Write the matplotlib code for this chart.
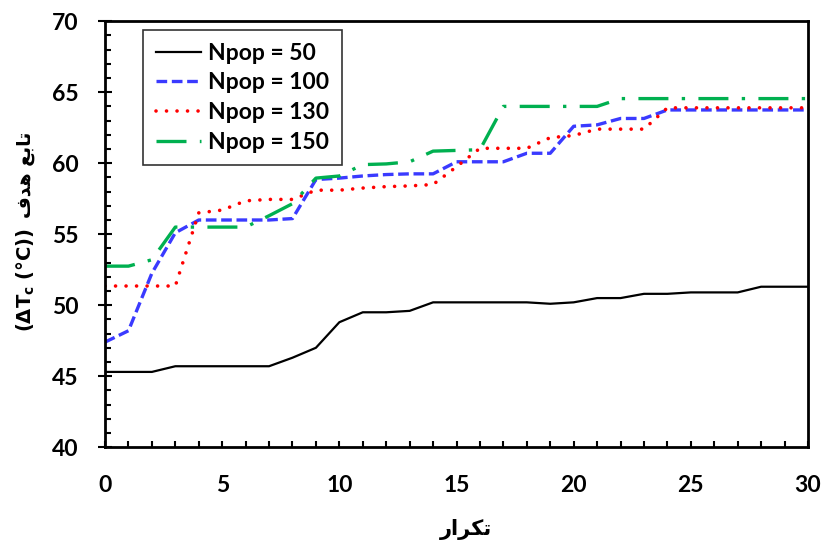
import matplotlib
matplotlib.use("Agg")
import matplotlib.pyplot as plt
from matplotlib.ticker import MultipleLocator

# iterations
iters = list(range(31))

# best objective per iteration for each population size
npop_50 = [45.3, 45.3, 45.3, 45.7, 45.7, 45.7, 45.7, 45.7, 46.3, 47.0,
           48.8, 49.5, 49.5, 49.6, 50.2, 50.2, 50.2, 50.2, 50.2, 50.1,
           50.2, 50.5, 50.5, 50.8, 50.8, 50.9, 50.9, 50.9, 51.3, 51.3, 51.3]
npop_100 = [47.4, 48.2, 52.25, 55.1, 56.0, 56.0, 56.0, 56.0, 56.1, 58.85,
            58.95, 59.1, 59.2, 59.25, 59.25, 60.1, 60.1, 60.1, 60.7, 60.7,
            62.6, 62.7, 63.15, 63.15, 63.75, 63.75, 63.75, 63.75, 63.75, 63.75, 63.75]
npop_130 = [51.35, 51.35, 51.35, 51.35, 56.5, 56.7, 57.35, 57.45, 57.45, 58.1,
            58.1, 58.25, 58.35, 58.4, 58.5, 59.75, 61.05, 61.05, 61.05, 61.8,
            61.95, 62.4, 62.4, 62.4, 63.9, 63.9, 63.9, 63.9, 63.9, 63.9, 63.9]
npop_150 = [52.75, 52.75, 53.2, 55.5, 55.5, 55.5, 55.5, 56.3, 57.15, 58.95,
            59.1, 59.9, 59.95, 60.1, 60.85, 60.9, 60.95, 64.0, 64.0, 64.0,
            64.0, 64.0, 64.55, 64.55, 64.55, 64.55, 64.55, 64.55, 64.55, 64.55, 64.55]

labels = ["Npop = 50", "Npop = 100", "Npop = 130", "Npop = 150"]

# Persian labels, shaped glyphs in visual order
ylabel_fa = "\uFED1\uFEAA\uFEEB \uFECA\uFE91\uFE8E\uFE97"   # تابع هدف
xlabel_fa = "\uFEAD\uFE8D\uFEAE\uFB91\uFE97"               # تکرار
ylabel_unit = r"$\mathbf{(\Delta T_c\ (°C))}$"

plt.rcParams['font.family'] = ['Lato', 'DejaVu Sans']
plt.rcParams['font.weight'] = 'bold'
plt.rcParams['mathtext.fontset'] = 'dejavusans'

fig = plt.figure(figsize=(8.27, 5.44), dpi=100)
ax = fig.add_axes([0.127, 0.178, 0.850, 0.783])

ax.plot(iters, npop_50, color='black', lw=1.6, label=labels[0])
ax.plot(iters, npop_100, color='#3a3aff', lw=2.4, linestyle=(0, (3.2, 1.4)),
        label=labels[1])
ax.plot(iters, npop_130, color='#ff0000', lw=2.6, linestyle=(0, (0.01, 2.9)),
        dash_capstyle='round', label=labels[2])
ax.plot(iters, npop_150, color='#00b050', lw=2.4,
        linestyle=(0, (9, 4, 1, 4)), label=labels[3])

ax.set_xlim(0, 30)
ax.set_ylim(40, 70)
ax.xaxis.set_major_locator(MultipleLocator(5))
ax.xaxis.set_minor_locator(MultipleLocator(1))
ax.yaxis.set_major_locator(MultipleLocator(5))
ax.yaxis.set_minor_locator(MultipleLocator(1))

ax.tick_params(axis='x', which='both', direction='in', length=4.5, width=1.5,
               labelsize=16.5, pad=20)
ax.tick_params(axis='y', which='major', direction='inout', length=10, width=1.5,
               labelsize=16.5, pad=14)
ax.tick_params(axis='y', which='minor', direction='in', length=4, width=1.5)

for sp in ax.spines.values():
    sp.set_linewidth(2.0)

# axis titles
ax.set_xlabel(xlabel_fa, fontsize=15, fontweight='bold', family=['DejaVu Sans'])
ax.xaxis.set_label_coords(0.513, -0.168)
ax.text(-0.113, 0.392, ylabel_unit, transform=ax.transAxes, rotation=90,
        ha='center', va='center', fontsize=14)
ax.text(-0.113, 0.64, ylabel_fa, transform=ax.transAxes, rotation=90,
        ha='center', va='center', fontsize=13.5, fontweight='bold',
        family=['DejaVu Sans'])

leg = ax.legend(loc='upper left', bbox_to_anchor=(0.054, 0.979), borderaxespad=0,
                fontsize=16.5, handlelength=2.0, handletextpad=0.3,
                labelspacing=0.38, fancybox=False, frameon=True,
                borderpad=0.55)
leg.get_frame().set_edgecolor('black')
leg.get_frame().set_linewidth(1.2)

fig.savefig("out.png", dpi=100)
